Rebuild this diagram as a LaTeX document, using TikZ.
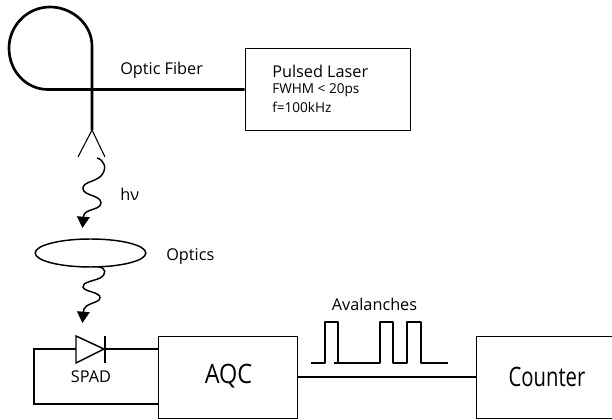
\documentclass[tikz,border=0pt]{standalone}
\usepackage{fontspec}
\setmainfont{Open Sans}
\newfontface\condface[FakeStretch=0.76]{Open Sans}
\newfontface\acqface[FakeStretch=0.88]{Open Sans}
\usetikzlibrary{arrows.meta,shapes.geometric}
\tikzset{
  fiber/.style={line width=2pt},
  wire/.style={line width=1.1pt},
  box/.style={draw,line width=1.1pt,anchor=north west,inner sep=0pt},
  lbl/.style={font=\fontsize{12.2}{14}\selectfont,inner sep=0pt},
  big/.style={font=\fontsize{20}{24}\selectfont,inner sep=0pt},
  small/.style={font=\fontsize{10.2}{12}\selectfont,inner sep=0pt,anchor=west},
  wave/.style={line width=1.1pt,-{Triangle[length=8.5pt,width=9.5pt]}}
}
\begin{document}
\begin{tikzpicture}[x=0.75pt,y=-0.75pt]
\useasboundingbox (0,0) rectangle (612,420);
\fill[white] (0,0) rectangle (612,420);
% boxes
\node[box,minimum width=124pt,minimum height=61.5pt] (laser) at (244.5,48) {};
\node[box,minimum width=104pt,minimum height=61.5pt] (aqc) at (158,336) {};
\node[box,minimum width=103pt,minimum height=61.5pt] (counter) at (476,336) {};
\node[big] at (228.5,376) {\acqface AQC};
\node[big] at (547,377) {\condface Counter};
\node[lbl,anchor=west] at (272,71) {Pulsed Laser};
\node[small] at (272,90) {FWHM < 20ps};
\node[small] at (272,107) {f=100kHz};
\node[lbl,anchor=west] at (120,70) {Optic Fiber};
\node[lbl,anchor=west] at (120,194) {hν};
\node[lbl,anchor=west] at (166,256) {Optics};
\node[lbl] at (374.5,304) {Avalanches};
\node[inner sep=0pt,font=\fontsize{12.2}{14}\selectfont] at (91,377) {SPAD};
% fiber
\coordinate (fs) at (92,130);
\coordinate (cross) at (92,89.5);
\draw[fiber,line join=round] (fs) -- (92,46) .. controls (92,24) and (72,7) .. (50,7) .. controls (27,7) and (9,26) .. (9,48) .. controls (9,72) and (27,89.5) .. (48,89.5) -- (laser.west |- cross);
% connector
\coordinate (yl) at (78,157);
\coordinate (yr) at (105,157);
\draw[line width=0.8pt] (yl) -- (fs) -- (yr);
% waves
\coordinate (t1) at (82.5,228);
\draw[wave] (97,158) .. controls (104,160) and (108,168) .. (101,176) .. controls (95,182) and (82,182) .. (83,189) .. controls (84,196) and (101,195) .. (101,203) .. controls (100,211) and (84,208) .. (t1);
\node[draw,ellipse,line width=1.1pt,minimum width=83pt,minimum height=21pt,inner sep=0pt] (optics) at (90.5,253) {};
\coordinate (t2) at (82.5,323);
\draw[wave] (99,267) .. controls (106,268) and (107,274) .. (100,278) .. controls (94,281) and (82,282) .. (83,287) .. controls (84,292) and (101,292) .. (100,298) .. controls (99,304) and (84,302) .. (t2);
% diode
\coordinate (da) at (76,349);
\coordinate (dk) at (104,349);
\draw[wire,line join=miter] (76,336) -- (76,363) -- (dk) -- cycle;
\draw[wire] (105,336) -- (105,363);
\draw[wire] (da) -- (34,349) -- (34,404) -- (aqc.west |- 0,404);
\draw[wire] (dk) -- (aqc.west |- dk);
% link
\coordinate (yy) at (0,377);
\draw[wire] (aqc.east |- yy) -- (counter.west |- yy);
% pulses
\draw[wire,line join=round] (311,363) -- (325,363) -- (325,322) -- (338,322) -- (338,363) -- (380,363) -- (380,322) -- (393,322) -- (393,363) -- (407,363) -- (407,322) -- (421,322) -- (421,363) -- (448,363);
\draw[wire] (334,363) -- (338,363);
\end{tikzpicture}
\end{document}
